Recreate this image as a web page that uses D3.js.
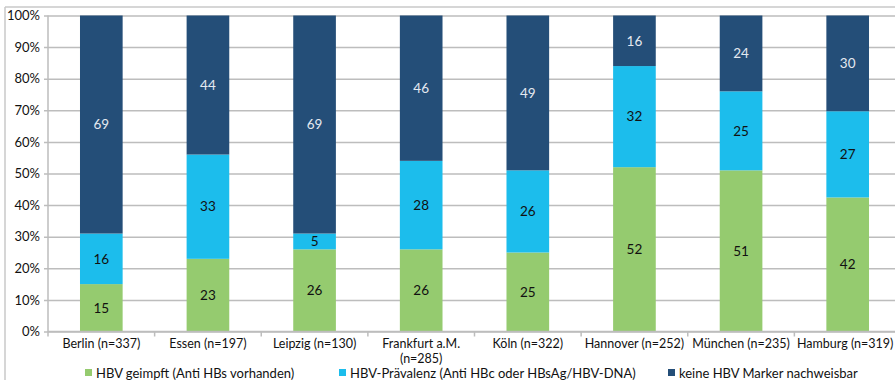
<!DOCTYPE html>
<html>
<head>
<meta charset="utf-8">
<script src="https://cdn.jsdelivr.net/npm/d3@7"></script>
<style>
  html, body { margin: 0; padding: 0; background: #fff; }
  svg { display: block; font-family: Lato, "Open Sans", sans-serif; }
</style>
</head>
<body>
<svg id="chart" width="895" height="380"></svg>
<script>
// Cities with sample size; Frankfurt's label wraps to two lines
const categories = [
  ["Berlin (n=337)"],
  ["Essen (n=197)"],
  ["Leipzig (n=130)"],
  ["Frankfurt a.M.", "(n=285)"],
  ["Köln (n=322)"],
  ["Hannover (n=252)"],
  ["München (n=235)"],
  ["Hamburg (n=319)"]
];
const seriesNames = [
  "HBV geimpft (Anti HBs vorhanden)",
  "HBV-Prävalenz (Anti HBc oder HBsAg/HBV-DNA)",
  "keine HBV Marker nachweisbar"
];
const vaccinated = [15, 23, 26, 26, 25, 52, 51, 42];
const prevalence = [16, 33, 5, 28, 26, 32, 25, 27];
const noMarker   = [69, 44, 69, 46, 49, 16, 24, 30];
const yTicks = [0, 0.1, 0.2, 0.3, 0.4, 0.5, 0.6, 0.7, 0.8, 0.9, 1];

const colors = ["#95cb6f", "#1cbdec", "#244e78"];
const labelColors = ["#111", "#111", "#e4e9f0"];

const svg = d3.select("#chart");
const margin = { left: 48, top: 15.5, right: -6, bottom: 48.5 };
const W = 895, H = 380;
const x0 = margin.left, x1 = W - margin.right;
const yTop = margin.top, yBot = H - margin.bottom;

// outer chart frame (top and left edges visible)
svg.append("line").attr("x1", 5).attr("x2", W).attr("y1", 7).attr("y2", 7)
  .attr("stroke", "#c8c8c8").attr("stroke-width", 1.5);
svg.append("line").attr("x1", 5).attr("x2", 5).attr("y1", 7).attr("y2", H)
  .attr("stroke", "#c8c8c8").attr("stroke-width", 1.5);

const keys = ["a", "b", "c"];
const rows = categories.map((c, i) => ({ i, a: vaccinated[i], b: prevalence[i], c: noMarker[i] }));
const stacked = d3.stack().keys(keys).offset(d3.stackOffsetExpand)(rows);

const x = d3.scaleBand().domain(d3.range(categories.length)).range([x0, x1]).paddingInner(0.6).paddingOuter(0.3);
const xStep = d3.scaleBand().domain(d3.range(categories.length)).range([x0, x1]);
const y = d3.scaleLinear().domain([0, 1]).range([yBot, yTop]);

// gridlines + y axis
const yAxis = d3.axisLeft(y).tickValues(yTicks).tickFormat(d3.format(".0%")).tickSize(-(x1 - x0)).tickSizeOuter(0);
const gy = svg.append("g").attr("transform", `translate(${x0},0)`).call(yAxis);
gy.select(".domain").remove();
gy.selectAll(".tick line").attr("stroke", "#bdbdbd").attr("stroke-width", 1.5).attr("x1", -4);
gy.selectAll(".tick text").attr("x", -8).attr("font-size", 13).attr("fill", "#111")
  .attr("font-family", "Lato, sans-serif");
svg.append("line").attr("x1", x0).attr("x2", x0).attr("y1", yTop).attr("y2", yBot + 0.5)
  .attr("stroke", "#bdbdbd").attr("stroke-width", 1.5);

// bars
const layers = svg.append("g").selectAll("g").data(stacked).join("g")
  .attr("fill", (d, k) => colors[k]);
layers.selectAll("rect").data(d => d).join("rect")
  .attr("x", d => x(d.data.i))
  .attr("width", x.bandwidth())
  .attr("y", d => y(d[1]))
  .attr("height", d => y(d[0]) - y(d[1]));

// value labels
stacked.forEach((layer, k) => {
  svg.append("g").selectAll("text").data(layer).join("text")
    .attr("x", d => x(d.data.i) + x.bandwidth() / 2)
    .attr("y", d => y((d[0] + d[1]) / 2))
    .attr("dy", "0.35em")
    .attr("text-anchor", "middle")
    .attr("font-size", 13.5)
    .attr("fill", labelColors[k])
    .text(d => d.data[keys[k]]);
});

// x axis line and category separators
svg.append("line").attr("x1", x0).attr("x2", x1).attr("y1", yBot).attr("y2", yBot)
  .attr("stroke", "#bdbdbd").attr("stroke-width", 1.5);
svg.append("g").selectAll("line").data(d3.range(categories.length + 1)).join("line")
  .attr("x1", i => x0 + i * xStep.step()).attr("x2", i => x0 + i * xStep.step())
  .attr("y1", yBot).attr("y2", yBot + 5)
  .attr("stroke", "#bdbdbd").attr("stroke-width", 1.5);

// category labels
const cl = svg.append("g").selectAll("text").data(categories).join("text")
  .attr("text-anchor", "middle")
  .attr("font-size", 12.5)
  .attr("fill", "#111")
  .attr("transform", (d, i) => `translate(${xStep(i) + xStep.bandwidth() / 2 - (i === categories.length - 1 ? 2.5 : 0)},${yBot + 16})`);
cl.selectAll("tspan").data(d => d).join("tspan")
  .attr("x", 0).attr("dy", (d, j) => j === 0 ? 0 : 15).text(d => d);

// legend
const legendX = [85, 339, 668];
const lg = svg.append("g").selectAll("g").data(seriesNames).join("g")
  .attr("transform", (d, k) => `translate(${legendX[k]},373)`);
lg.append("rect").attr("x", 0).attr("y", -4).attr("width", 7).attr("height", 7)
  .attr("fill", (d, k) => colors[k]);
lg.append("text").attr("x", 11).attr("dy", "0.35em").attr("font-size", 13).attr("fill", "#111")
  .text(d => d);
</script>
</body>
</html>
